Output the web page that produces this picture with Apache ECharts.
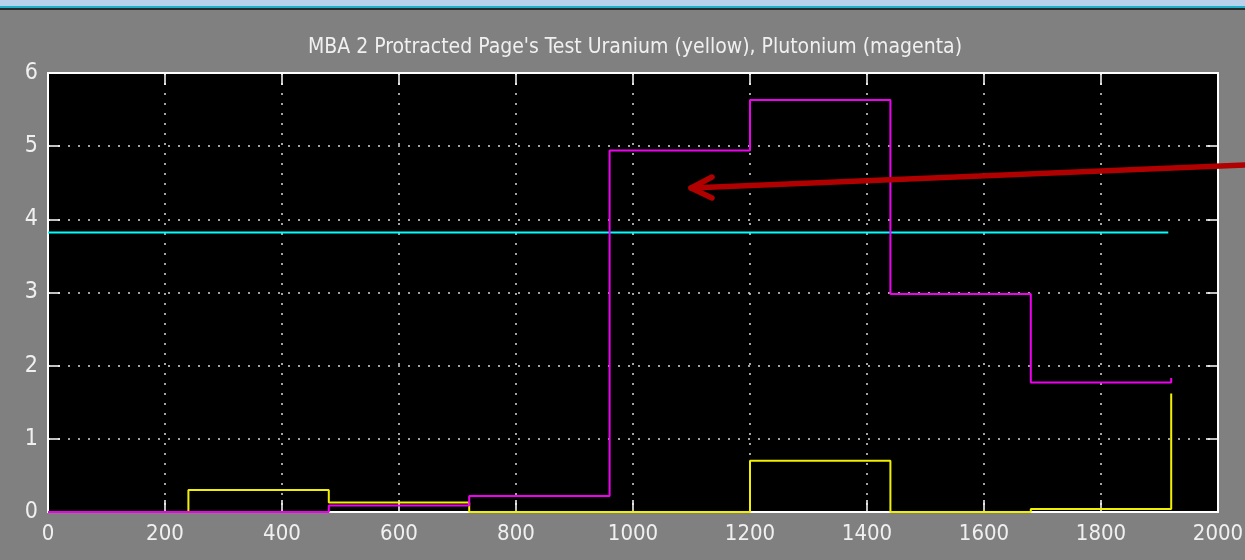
<!DOCTYPE html>
<html lang="en">
<head>
    <meta charset="utf-8">
    <title>MBA 2 Protracted Page's Test</title>
    <script src="https://cdn.jsdelivr.net/npm/echarts@6.0.0/dist/echarts.min.js"></script>
    <style>
        html, body { margin: 0; padding: 0; background: #808080; }
        #main { width: 1245px; height: 560px; }
    </style>
</head>
<body>
    <div id="main"></div>
    <script type="text/javascript">
        // bin start positions (each bin is 240 wide), last bin ends at 1920
        var binStart = [0, 240, 480, 720, 960, 1200, 1440, 1680];
        var binEnd = 1920;
        // uranium (yellow) and plutonium (magenta) per bin
        var uranium   = [0, 0.30, 0.13, 0, 0, 0.70, 0, 0.04];
        var plutonium = [0, 0, 0.09, 0.22, 4.94, 5.63, 2.98, 1.77];
        // value the trace jumps to at the very end
        var uraniumLast = 1.62;
        var plutoniumLast = 1.83;
        // cyan reference level
        var refLevel = 3.82;
        var refRange = [0, 1915];
        var xTicks = [0, 200, 400, 600, 800, 1000, 1200, 1400, 1600, 1800, 2000];
        var yTicks = [0, 1, 2, 3, 4, 5, 6];

        var font = "'Liberation Sans Narrow', 'DejaVu Sans Condensed', 'Liberation Sans', sans-serif";
        var txt = '#f0f0f0';

        function steps(vals, last) {
            var pts = [];
            for (var i = 0; i < binStart.length; i++) {
                pts.push([binStart[i], vals[i]]);
            }
            pts.push([binEnd, last]);
            return pts;
        }

        var gridLine = { show: true, lineStyle: { color: '#d8d8d8', width: 1.5, type: [2, 8] } };

        function xAx(pos, labels) {
            return {
                type: 'value', position: pos, min: xTicks[0], max: xTicks[xTicks.length - 1], interval: 200,
                axisLine: { show: true, onZero: false, lineStyle: { color: '#ffffff', width: 2 } },
                axisTick: { show: true, inside: true, length: 12, lineStyle: { color: '#ffffff', width: 1.5 } },
                axisLabel: { show: labels, color: txt, fontFamily: font, fontSize: 22, margin: 11,
                             formatter: function (v) { return String(v); } },
                splitLine: labels ? gridLine : { show: false }
            };
        }
        function yAx(pos, labels) {
            return {
                type: 'value', position: pos, min: yTicks[0], max: yTicks[yTicks.length - 1], interval: 1,
                axisLine: { show: true, onZero: false, lineStyle: { color: '#ffffff', width: 2 } },
                axisTick: { show: true, inside: true, length: 12, lineStyle: { color: '#ffffff', width: 1.5 } },
                axisLabel: { show: labels, color: txt, fontFamily: font, fontSize: 23, margin: 10 },
                splitLine: labels ? gridLine : { show: false }
            };
        }

        var myChart = echarts.init(document.getElementById('main'));
        myChart.setOption({
            animation: false,
            backgroundColor: '#808080',
            title: {
                text: "MBA 2 Protracted Page's Test Uranium (yellow), Plutonium (magenta)",
                left: 630, top: 32, textAlign: 'center',
                textStyle: { color: txt, fontFamily: font, fontSize: 21, fontWeight: 'normal' }
            },
            grid: { left: 48, right: 27, top: 73, bottom: 48, show: true, backgroundColor: '#000000',
                    borderWidth: 0, outerBoundsMode: 'none', containLabel: false },
            xAxis: [xAx('bottom', true), xAx('top', false)],
            yAxis: [yAx('left', true), yAx('right', false)],
            series: [
                {
                    name: 'Reference', type: 'line', symbol: 'none', silent: true,
                    data: [[refRange[0], refLevel], [refRange[1], refLevel]],
                    lineStyle: { color: '#00ffff', width: 2 }
                },
                {
                    name: 'Uranium', type: 'line', step: 'end', symbol: 'none', silent: true,
                    data: steps(uranium, uraniumLast),
                    lineStyle: { color: '#f0f000', width: 2 }
                },
                {
                    name: 'Plutonium', type: 'line', step: 'end', symbol: 'none', silent: true,
                    data: steps(plutonium, plutoniumLast),
                    lineStyle: { color: '#f000f0', width: 2 }
                }
            ],
            graphic: [
                // window strip at the top
                { type: 'rect', shape: { x: 0, y: 0, width: 1245, height: 6 }, style: { fill: '#b9d1ea' } },
                { type: 'rect', shape: { x: 0, y: 6, width: 1245, height: 2 }, style: { fill: '#1fb0cc' } },
                { type: 'rect', shape: { x: 0, y: 8, width: 1245, height: 2 }, style: { fill: '#2a2a2a' } },
                // red annotation arrow
                { type: 'line', z: 100, shape: { x1: 1250, y1: 164.7, x2: 691, y2: 188 },
                  style: { stroke: '#b00000', lineWidth: 5.5, lineCap: 'round' } },
                { type: 'polyline', z: 100, shape: { points: [[712, 177], [691, 188], [712, 198]] },
                  style: { stroke: '#b00000', lineWidth: 5.5, lineCap: 'round', lineJoin: 'round', fill: null } }
            ]
        });
    </script>
</body>
</html>
